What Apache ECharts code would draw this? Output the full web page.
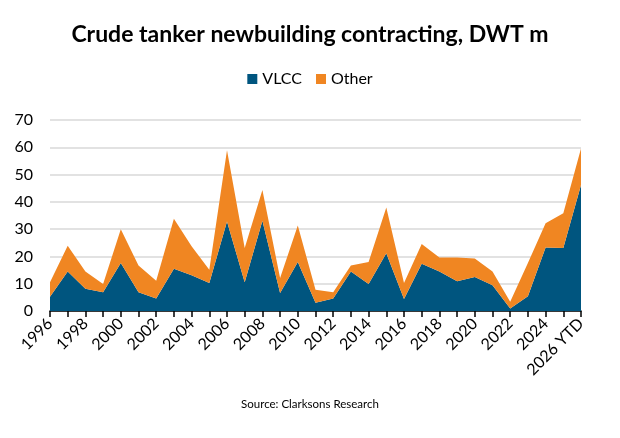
<!DOCTYPE html>
<html>
<head>
<meta charset="utf-8">
<script src="https://cdn.jsdelivr.net/npm/echarts@6/dist/echarts.min.js"></script>
<style>
  html, body { margin: 0; padding: 0; background: #fff; }
  #chart { width: 620px; height: 438px; }
</style>
</head>
<body>
<div id="chart"></div>
<script>
const years = ['1996', '1997', '1998', '1999', '2000', '2001', '2002', '2003', '2004', '2005',
  '2006', '2007', '2008', '2009', '2010', '2011', '2012', '2013', '2014', '2015',
  '2016', '2017', '2018', '2019', '2020', '2021', '2022', '2023', '2024', '2025', '2026 YTD'];

// DWT m
const vlcc = [5.2, 14.5, 8.2, 6.9, 17.6, 6.9, 4.6, 15.5, 13.1, 10.3,
  32.8, 10.5, 33.1, 6.6, 18.0, 3.0, 4.6, 14.5, 9.9, 21.2,
  4.4, 17.3, 14.5, 10.9, 12.5, 9.4, 0.9, 5.4, 23.3, 23.1, 46.2];
const other = [5.3, 9.4, 6.3, 3.0, 12.4, 9.8, 6.5, 18.3, 10.6, 4.8,
  26.1, 12.6, 11.2, 5.5, 13.3, 4.8, 2.3, 2.2, 8.1, 16.7,
  5.9, 7.3, 5.1, 8.7, 6.7, 5.1, 2.5, 12.2, 8.9, 12.7, 13.4];

const font = 'Lato, "Open Sans", sans-serif';

const chart = echarts.init(document.getElementById('chart'));
chart.setOption({
  animation: false,
  textStyle: { fontFamily: font },
  title: {
    text: 'Crude tanker newbuilding contracting, DWT m',
    left: 'center',
    top: 18,
    textStyle: { fontSize: 23, fontWeight: 'bold', color: '#000', fontFamily: font }
  },
  legend: {
    top: 66,
    left: 'center',
    itemWidth: 10,
    itemHeight: 10,
    itemGap: 14,
    icon: 'rect',
    textStyle: { fontSize: 16, color: '#000', fontFamily: font },
    data: ['VLCC', 'Other']
  },
  grid: { left: 50, right: 39, top: 120, bottom: 127 },
  xAxis: {
    type: 'category',
    data: years,
    boundaryGap: false,
    axisLine: { lineStyle: { color: '#000', width: 1.5 } },
    axisTick: { show: true, interval: 0, length: 6, lineStyle: { color: '#000', width: 1.5 } },
    axisLabel: { interval: 1, rotate: 45, fontSize: 16, color: '#000', margin: 10, fontFamily: font }
  },
  yAxis: {
    type: 'value',
    min: 0,
    max: 70,
    interval: 10,
    axisLine: { show: false },
    axisTick: { show: false },
    axisLabel: { fontSize: 16, color: '#000', margin: 17, fontFamily: font },
    splitLine: { lineStyle: { color: '#d9d9d9', width: 1.5 } }
  },
  series: [
    {
      name: 'VLCC',
      type: 'line',
      stack: 'total',
      data: vlcc,
      showSymbol: false,
      lineStyle: { width: 0 },
      itemStyle: { color: '#00557f' },
      areaStyle: { color: '#00557f', opacity: 1 }
    },
    {
      name: 'Other',
      type: 'line',
      stack: 'total',
      data: other,
      showSymbol: false,
      lineStyle: { width: 0 },
      itemStyle: { color: '#f08622' },
      areaStyle: { color: '#f08622', opacity: 1 }
    }
  ],
  graphic: [{
    type: 'text',
    left: 'center',
    top: 398,
    style: { text: 'Source: Clarksons Research', fontSize: 11.5, fill: '#000', fontFamily: font }
  }]
});
</script>
</body>
</html>
